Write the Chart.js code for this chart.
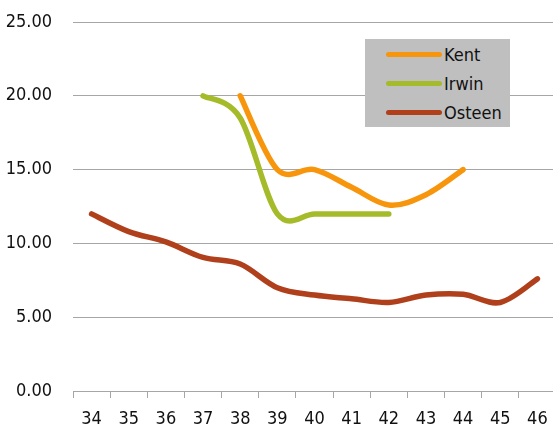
<!DOCTYPE html>
<html>
<head>
<meta charset="utf-8">
<script src="https://cdn.jsdelivr.net/npm/chart.js@4"></script>
<style>
    html, body { margin: 0; padding: 0; background: #fff; overflow: hidden; }
    #wrap { position: relative; width: 556px; height: 427px; }
    #legend {
        position: absolute; left: 365px; top: 39px; width: 145px; height: 88px;
        background: #bfbfbf; font-family: 'DejaVu Sans Condensed', sans-serif;
        font-size: 18px; color: #111;
    }
    .item { position: absolute; left: 21px; height: 22px; display: flex; align-items: center; }
    .swatch { width: 56px; height: 5px; border-radius: 3px; margin-right: 2px; }
</style>
</head>
<body>
<div id="wrap">
    <canvas id="chart" width="556" height="427"></canvas>
    <div id="legend"></div>
</div>
<script>
const weeks = ['34', '35', '36', '37', '38', '39', '40', '41', '42', '43', '44', '45', '46'];
const seriesNames = ['Kent', 'Irwin', 'Osteen'];
const kent = [null, null, null, null, 20, 15, 15, 13.8, 12.6, 13.3, 15, null, null];
const irwin = [null, null, null, 20, 18.5, 12, 12, 12, 12, null, null, null, null];
const osteen = [12, 10.8, 10.1, 9.05, 8.6, 7.0, 6.5, 6.25, 6.0, 6.5, 6.55, 6.0, 7.6];
const yTicks = [0, 5, 10, 15, 20, 25];

const colors = ['#f7960c', '#a6bb29', '#b0401c'];
const fontFamily = "'DejaVu Sans Condensed', sans-serif";

// Excel-style smoothing: bezier control points at 1/6 of neighbour difference
const excelSmooth = {
    id: 'excelSmooth',
    beforeDatasetsDraw(chart) {
        chart.data.datasets.forEach((ds, di) => {
            const meta = chart.getDatasetMeta(di);
            meta.dataset.updateControlPoints(chart.chartArea, 'x');
            const pts = meta.data.filter(p => !p.skip);
            pts.forEach((p, i) => {
                const prev = pts[i - 1] || p;
                const next = pts[i + 1] || p;
                const dx = (next.x - prev.x) / 6;
                const dy = (next.y - prev.y) / 6;
                p.cp1x = p.x - dx; p.cp1y = p.y - dy;
                p.cp2x = p.x + dx; p.cp2y = p.y + dy;
            });
        });
    }
};

const datasets = [kent, irwin, osteen].map((data, i) => ({
    label: seriesNames[i],
    data: data,
    borderColor: colors[i],
    backgroundColor: colors[i],
    borderWidth: 5.5,
    borderCapStyle: 'round',
    pointRadius: 0,
    tension: 0.4,
    fill: false
}));

new Chart(document.getElementById('chart'), {
    type: 'line',
    data: { labels: weeks, datasets: datasets },
    plugins: [excelSmooth],
    options: {
        responsive: false,
        animation: false,
        layout: { padding: { top: 22, left: 0, right: 0, bottom: 0 } },
        plugins: { legend: { display: false }, tooltip: { enabled: false } },
        scales: {
            x: {
                offset: true,
                grid: { drawOnChartArea: false, offset: true, tickLength: 7, color: '#a6a6a6' },
                border: { color: '#a6a6a6' },
                ticks: { color: '#111', padding: 11, maxRotation: 0, font: { family: fontFamily, size: 18 } },
                afterFit: (s) => { s.height = 36; s.paddingLeft = 0; s.paddingRight = 0; }
            },
            y: {
                min: 0,
                max: 25,
                afterBuildTicks: (s) => { s.ticks = yTicks.map(v => ({ value: v })); },
                grid: { color: '#a6a6a6', drawTicks: false },
                border: { display: false },
                ticks: {
                    color: '#111', padding: 21,
                    font: { family: fontFamily, size: 18 },
                    callback: (v) => Number(v).toFixed(2)
                },
                afterFit: (s) => { s.width = 73; s.paddingTop = 0; s.paddingBottom = 0; }
            }
        }
    }
});

// legend
const legend = document.getElementById('legend');
seriesNames.forEach((name, i) => {
    const item = document.createElement('div');
    item.className = 'item';
    item.style.top = (4 + i * 29) + 'px';
    item.innerHTML = `<span class="swatch" style="background:${colors[i]}"></span><span>${name}</span>`;
    legend.appendChild(item);
});
</script>
</body>
</html>
